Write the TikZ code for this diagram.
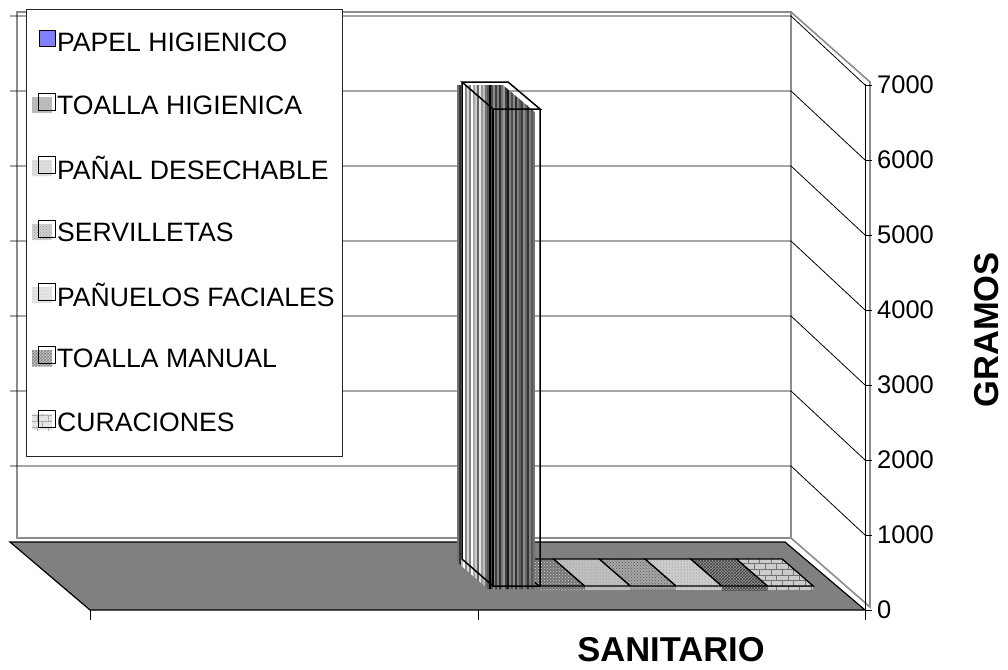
\documentclass[tikz,border=0pt]{standalone}
\usepackage{fontspec}
\setmainfont{Liberation Sans}
\usetikzlibrary{patterns}
\definecolor{papel}{RGB}{128,128,255}
\definecolor{wallgray}{RGB}{140,140,140}
\definecolor{floorgray}{RGB}{128,128,128}
\tikzset{
  wall/.style={draw=wallgray, line width=1.6pt},
  grid line/.style={draw=black, line width=0.8pt},
  axisline/.style={draw=black, line width=1pt},
  barline/.style={draw=black, line width=1.5pt, line join=miter},
  ticklabel/.style={anchor=west, inner sep=0pt, font=\fontsize{25.5}{28}\selectfont},
  legtext/.style={anchor=west, inner sep=0pt, font=\fontsize{26.6}{29}\selectfont},
  titletext/.style={inner sep=0pt, font=\fontsize{34.5}{38}\selectfont\bfseries},
  swatchbox/.style={draw=black, line width=1pt},
  p1/.style={fill=black!55, postaction={pattern=crosshatch dots, pattern color=black!15}},
  p2/.style={fill=black!25, postaction={pattern=dots, pattern color=black!45}},
  p3/.style={fill=black!35, postaction={pattern=crosshatch dots, pattern color=black!65}},
  p4/.style={fill=black!20, postaction={pattern=dots, pattern color=black!50}},
  p5/.style={fill=black!40, postaction={pattern=crosshatch, pattern color=black!75}},
  p6/.style={fill=black!20, postaction={pattern=bricks, pattern color=black!55}},
}
\begin{document}
\begin{tikzpicture}[x=1pt,y=-1pt]
\useasboundingbox[fill=white] (0,0) rectangle (1008,669);

% back wall and side wall
\draw[wall, fill=white] (17,12) rectangle (791,538);
\draw[wall] (791,12) -- (870,82) -- (870,607) -- (791,538);

% gridlines
\foreach \v in {1,...,7}{
  \pgfmathsetmacro{\yf}{610-75*\v}
  \pgfmathsetmacro{\yb}{\yf-69}
  \draw[grid line] (10,\yb) -- (791,\yb) -- (865,\yf);
}

% floor
\draw[fill=floorgray, draw=black, line width=1.2pt] (10,542) -- (785,542) -- (865,610) -- (90,610) -- cycle;

% category ticks
\coordinate (c0) at (90,610);
\coordinate (c1) at (478,610);
\coordinate (c2) at (865,610);
\foreach \c in {c0,c1,c2}{ \draw[axisline] (\c) -- ++(0,10); }

% value axis
\coordinate (ax0) at (865,620);
\coordinate (ax1) at (865,84);
\draw[axisline] (ax0) -- (ax1);
\foreach \v in {0,...,7}{
  \pgfmathsetmacro{\yf}{610-75*\v}
  \draw[axisline] (865,\yf) -- (872,\yf);
  \node[ticklabel] (lab\v) at (877,\yf) {\pgfmathparse{int(1000*\v)}\pgfmathresult};
}

% flat tiles of the other series
\foreach \i/\st in {1/p1,2/p2,3/p3,4/p4,5/p5,6/p6}{
  \pgfmathsetmacro{\bl}{508+45.7*(\i-1)}
  \pgfmathsetmacro{\br}{\bl+45.7}
  \pgfmathsetmacro{\fl}{\bl+31}
  \pgfmathsetmacro{\fr}{\br+31}
  \path[\st] (\fl,586) rectangle (\fr,590);
  \path[\st] (\bl,559) -- (\br,559) -- (\fr,586) -- (\fl,586) -- cycle;
  \draw[black, line width=1.3pt] (\bl,559) -- (\br,559) -- (\fr,586) -- (\fl,586) -- cycle;
}

% main bar (PAPEL HIGIENICO) with vertical stripes, fill slightly offset
\begin{scope}
  \clip (457,85) -- (503,85) -- (535,112) -- (535,589) -- (488,589) -- (457,562) -- cycle;
  \foreach \g [count=\i] in {55,80,25,0,45,15,50,0,35,20,60,10,40,25,55,
                             65,100,70,45,75,50,80,55,40,75,90,50,70,45,80,50,65,75,45,60,80,50,65,55}{
    \fill[black!\g] ({457+2*(\i-1)},80) rectangle ++(2.05,515);
  }
\end{scope}
\coordinate (tbl) at (462,82);
\coordinate (tbr) at (508,82);
\coordinate (tfl) at (493,109);
\coordinate (tfr) at (540,109);
\coordinate (bbl) at (462,559);
\coordinate (bfl) at (493,586);
\coordinate (bfr) at (540,586);
\draw[barline] (tbl) -- (tbr) -- (tfr) -- (tfl) -- cycle;
\draw[barline] (tbl) -- (bbl) -- (bfl) -- (bfr) -- (tfr);
\draw[barline] (tfl) -- (bfl);

% legend
\draw[draw=black!85, fill=white, line width=1pt] (26,10) rectangle (342,456);
\foreach \c/\t/\st [count=\k] in {
  42/{PAPEL HIGIENICO}/none,
  105/{TOALLA HIGIENICA}/p1,
  168/{PAÑAL DESECHABLE}/p2,
  232/{SERVILLETAS}/p3,
  295/{PAÑUELOS FACIALES}/p4,
  358/{TOALLA MANUAL}/p5,
  422/{CURACIONES}/p6}{
  \ifnum\k=1
    \draw[swatchbox, fill=papel] (39,\c-11) rectangle (55,\c+5);
  \else
    \path[\st, opacity=0.5] (32,\c-8) rectangle (52,\c+8);
    \draw[swatchbox] (38,\c-12) rectangle (55,\c+5);
  \fi
  \node[legtext] (leg\k) at (57,\c) {\t};
}

% axis titles
\node[titletext] (xtitle) at (671,650) {SANITARIO};
\node[titletext, rotate=90] (ytitle) at (987,330) {GRAMOS};
\end{tikzpicture}
\end{document}
